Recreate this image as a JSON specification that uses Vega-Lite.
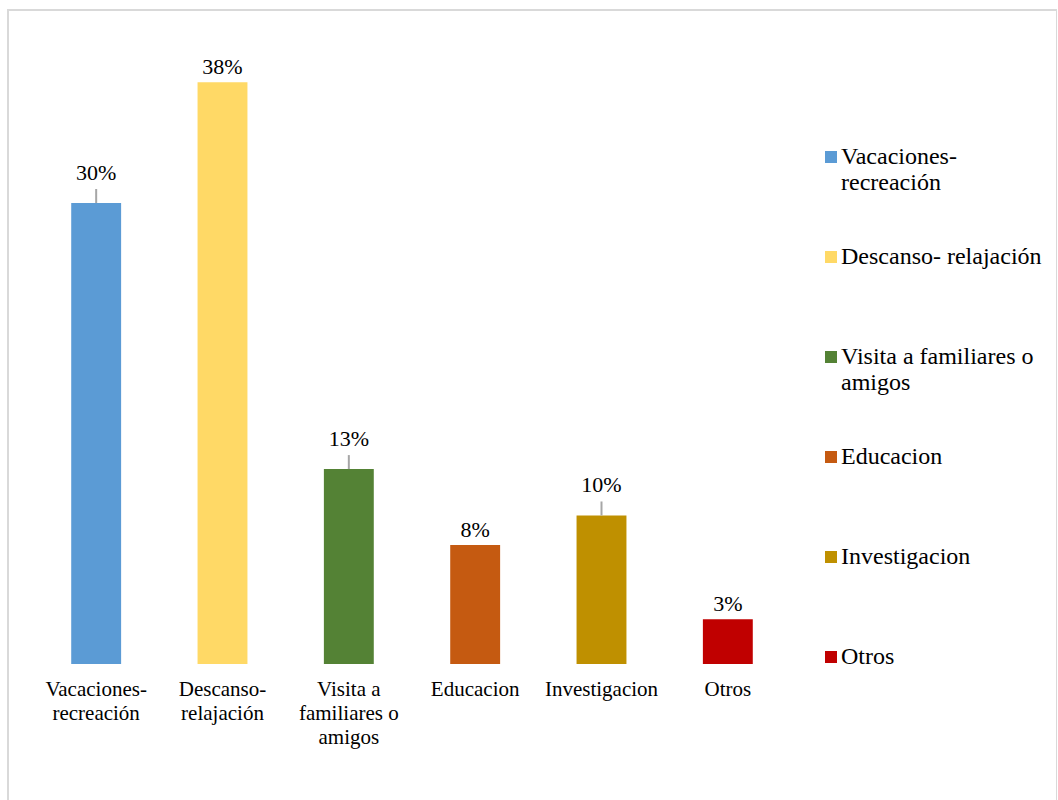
{
  "$schema": "https://vega.github.io/schema/vega-lite/v6.json",
  "width": 1049,
  "height": 800,
  "autosize": {"type": "none"},
  "padding": {"left": 8, "top": 10, "right": 0, "bottom": 0},
  "background": "white",
  "config": {
    "view": {"stroke": "#d9d9d9", "strokeWidth": 2},
    "font": "Liberation Serif"
  },
  "data": {
    "values": [
      {"motivo": "Vacaciones- recreación", "valor": 0.298},
      {"motivo": "Descanso- relajación", "valor": 0.376},
      {"motivo": "Visita a familiares o amigos", "valor": 0.126},
      {"motivo": "Educacion", "valor": 0.077},
      {"motivo": "Investigacion", "valor": 0.096},
      {"motivo": "Otros", "valor": 0.029}
    ]
  },
  "encoding": {
    "x": {
      "field": "motivo",
      "type": "nominal",
      "sort": null,
      "scale": {"range": [25, 783], "paddingInner": 0.605, "paddingOuter": 0.3025},
      "axis": {
        "title": null,
        "labelAngle": 0,
        "domain": false,
        "ticks": false,
        "tickSize": 0,
        "grid": false,
        "offset": -146,
        "labelFontSize": 21,
        "labelFont": "Liberation Serif",
        "labelColor": "black",
        "labelBaseline": "top",
        "labelPadding": 14,
        "labelLineHeight": 24,
        "labelLimit": 0,
        "labelOverlap": false,
        "labelExpr": "datum.value == 'Vacaciones- recreación' ? ['Vacaciones-', 'recreación'] : datum.value == 'Descanso- relajación' ? ['Descanso-', 'relajación'] : datum.value == 'Visita a familiares o amigos' ? ['Visita a', 'familiares o', 'amigos'] : datum.value"
      }
    },
    "y": {
      "field": "valor",
      "type": "quantitative",
      "scale": {"domain": [0, 0.4], "range": [654, 35.2], "nice": false, "zero": true},
      "axis": null
    }
  },
  "layer": [
    {
      "mark": {"type": "bar"},
      "encoding": {
        "color": {
          "field": "motivo",
          "type": "nominal",
          "sort": null,
          "scale": {
            "domain": ["Vacaciones- recreación", "Descanso- relajación", "Visita a familiares o amigos", "Educacion", "Investigacion", "Otros"],
            "range": ["#5B9BD5", "#FFD966", "#548235", "#C55A11", "#BF9000", "#C00000"]
          },
          "legend": {
            "title": null,
            "orient": "none",
            "legendX": 811,
            "legendY": 135,
            "padding": 0,
            "symbolType": "square",
            "symbolSize": 144,
            "symbolStrokeWidth": 0,
            "labelFontSize": 24,
            "labelFont": "Liberation Serif",
            "labelColor": "black",
            "labelLimit": 400,
            "labelOffset": -2,
            "labelLineHeight": 27,
            "rowPadding": 50,
            "labelExpr": "datum.label == 'Vacaciones- recreación' ? ['Vacaciones-', 'recreación'] : datum.label == 'Visita a familiares o amigos' ? ['Visita a familiares o', 'amigos'] : [datum.label, '']"
          }
        }
      }
    },
    {
      "transform": [{"filter": {"field": "motivo", "oneOf": ["Vacaciones- recreación", "Visita a familiares o amigos", "Investigacion"]}}],
      "mark": {"type": "rule", "color": "#a6a6a6", "strokeWidth": 2, "y2Offset": -14},
      "encoding": {"y2": {"field": "valor"}}
    },
    {
      "transform": [{"filter": {"field": "motivo", "oneOf": ["Vacaciones- recreación", "Visita a familiares o amigos", "Investigacion"]}}],
      "mark": {"type": "text", "dy": -23, "baseline": "alphabetic", "fontSize": 22, "color": "black", "font": "Liberation Serif"},
      "encoding": {"text": {"field": "valor", "type": "quantitative", "format": ".0%"}}
    },
    {
      "transform": [{"filter": {"not": {"field": "motivo", "oneOf": ["Vacaciones- recreación", "Visita a familiares o amigos", "Investigacion"]}}}],
      "mark": {"type": "text", "dy": -8, "baseline": "alphabetic", "fontSize": 22, "color": "black", "font": "Liberation Serif"},
      "encoding": {"text": {"field": "valor", "type": "quantitative", "format": ".0%"}}
    }
  ]
}
